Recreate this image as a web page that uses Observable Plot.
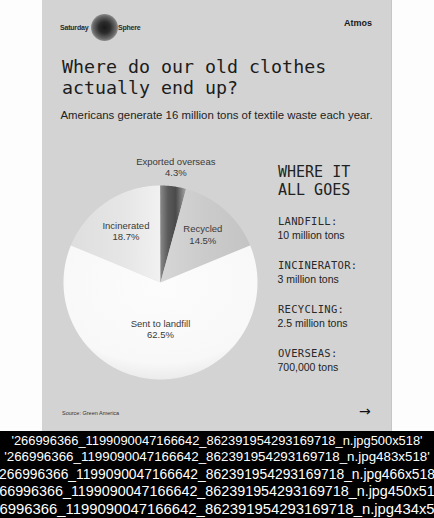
<!DOCTYPE html>
<html><head><meta charset="utf-8">
<script src="https://cdn.jsdelivr.net/npm/d3@7"></script>
<script src="https://cdn.jsdelivr.net/npm/@observablehq/plot@0.6"></script>
<style>
html,body{margin:0;padding:0;background:#fdfdfd;width:434px;height:518px;overflow:hidden;position:relative;font-family:"Liberation Sans",Arial,sans-serif}
#card{position:absolute;left:42px;top:0;width:349px;height:431px;background:#d3d3d3;border-right:1px solid #c6c6c6}
#band{position:absolute;left:0;top:431px;width:434px;height:87px;background:#000}
.t{position:absolute;white-space:nowrap;line-height:1}
.mono{font-family:"DejaVu Sans Mono",monospace}
#chart{position:absolute;left:50px;top:140px}
#sphere{position:absolute;left:91px;top:14px;width:27px;height:27px;border-radius:50%;
 background:radial-gradient(circle at 50% 50%, #1a1a1a 0%, #2c2c2c 30%, rgba(70,70,70,0.75) 60%, rgba(150,150,150,0.3) 85%, rgba(211,211,211,0) 100%)}
</style>
</head><body>
<div id="card"></div>
<div id="band"></div>
<div id="sphere"></div>
<div id="root"></div>
<div id="chart"></div>
<script>
// ---- data ----
const slices = ["Incinerated", "Exported overseas", "Recycled", "Sent to landfill"];
const shares = [18.7, 4.3, 14.5, 62.5];
const legendLabels = ["LANDFILL:", "INCINERATOR:", "RECYCLING:", "OVERSEAS:"];
const legendValues = ["10 million tons", "3 million tons", "2.5 million tons", "700,000 tons"];
const titleLines = ["Where do our old clothes", "actually end up?"];
const subtitle = "Americans generate 16 million tons of textile waste each year.";
const sideTitle = ["WHERE IT", "ALL GOES"];
const source = "Source: Green America";
const fileBase = "266996366_1199090047166642_862391954293169718_n.jpg";
const fileWidths = [500, 483, 466, 450, 434];
const fileHeight = 518;

// ---- styles ----
const fills = ["url(#gInc)", "url(#gExp)", "url(#gRec)", "url(#gLand)"];

// ---- static text ----
const root = document.getElementById("root");
function addText(txt, left, baseline, size, opts = {}) {
  const d = document.createElement("div");
  d.className = "t" + (opts.mono ? " mono" : "");
  d.textContent = txt;
  d.style.fontSize = size + "px";
  d.style.top = (baseline - 0.85 * size) + "px";
  if (opts.center) { d.style.left = left + "px"; d.style.transform = "translateX(-50%)"; }
  else d.style.left = left + "px";
  d.style.color = opts.color || "#1f1f1f";
  if (opts.bold) d.style.fontWeight = "bold";
  if (opts.ls) d.style.letterSpacing = opts.ls + "px";
  root.appendChild(d);
  return d;
}
addText("Saturday", 60, 29.5, 7, {bold: true, color: "#2a2a2a", ls: -0.2});
addText("Sphere", 118, 29.5, 7, {bold: true, color: "#2a2a2a", ls: -0.2});
addText("Atmos", 344, 27, 9, {bold: true, color: "#1a1a1a"});
titleLines.forEach((l, i) => addText(l, 62, 74 + i * 20.7, 18.3, {mono: true, color: "#1c1c1c"}));
addText(subtitle, 60.5, 120, 11.4, {color: "#222"});
sideTitle.forEach((l, i) => addText(l, 278, 177.5 + i * 18.3, 15, {mono: true, color: "#222"}));
legendLabels.forEach((l, i) => {
  addText(l, 278, 225 + i * 44, 10.5, {mono: true, color: "#2a2a2a", ls: 0.3});
  addText(legendValues[i], 277.5, 239 + i * 44, 10.5, {color: "#222"});
});
addText(source, 62, 416, 5.5, {color: "#333"});
addText("\u2192", 359, 416, 14, {color: "#111"}).style.fontFamily = "DejaVu Sans";
const bandBaselines = [446, 461.5, 480, 496, 514.5];
fileWidths.forEach((w, i) => {
  const fs = 12.9 * fileWidths[0] / w;
  addText(`'${fileBase}${w}x${fileHeight}'`, 217, bandBaselines[i], fs, {center: true, color: "#fff"});
});

// ---- pie via Plot ----
const data = slices.map((name, i) => ({name, share: shares[i]}));
const landShare = shares[slices.indexOf("Sent to landfill")];
const start = -Math.PI * (100 - landShare) / 100;
const arcs = d3.pie().sort(null).value(d => d.share).startAngle(start).endAngle(start + 2 * Math.PI)(data);
const pts = [];
arcs.forEach(a => {
  const n = Math.max(4, Math.ceil((a.endAngle - a.startAngle) / 0.01));
  pts.push({name: a.data.name, x: 0, y: 0});
  for (let i = 0; i <= n; i++) {
    const t = a.startAngle + (a.endAngle - a.startAngle) * i / n;
    pts.push({name: a.data.name, x: Math.sin(t), y: Math.cos(t)});
  }
  pts.push({name: a.data.name, x: 0, y: 0});
});
const labelR = {"Incinerated": 0.64, "Exported overseas": 1.2, "Recycled": 0.66, "Sent to landfill": 0.48};
const labels = arcs.map(a => {
  const m = (a.startAngle + a.endAngle) / 2, r = labelR[a.data.name];
  return {x: r * Math.sin(m), y: r * Math.cos(m), text: `${a.data.name}\n${a.data.share}%`};
});
const R = 97, W = 220, H = 252, cx = 110, cy = 142;
const plot = Plot.plot({
  width: W, height: H, margin: 0,
  x: {domain: [-cx / R, (W - cx) / R], axis: null},
  y: {domain: [-(H - cy) / R, cy / R], axis: null},
  color: {domain: slices, range: fills},
  style: {background: "transparent", overflow: "visible", fontFamily: "Liberation Sans, Arial, sans-serif"},
  marks: [
    Plot.line(pts, {x: "x", y: "y", z: "name", fill: "name", stroke: "none", curve: "linear"}),
    Plot.text(labels, {x: "x", y: "y", text: "text", fontSize: 9.5, lineHeight: 1.2, fill: "#3a3a3a"})
  ]
});
const defs = d3.select(plot).insert("defs", ":first-child");
function lin(id, stops, x2 = 1, y2 = 0) {
  const g = defs.append("linearGradient").attr("id", id).attr("x1", 0).attr("y1", 0).attr("x2", x2).attr("y2", y2);
  stops.forEach(([o, c]) => g.append("stop").attr("offset", o).attr("stop-color", c));
}
lin("gInc", [[0, "#dedede"], [0.6, "#e6e6e6"], [1, "#f1f1f1"]]);
lin("gExp", [[0, "#8a8a8a"], [0.3, "#5a5a5a"], [0.6, "#4a4a4a"], [1, "#a8a8a8"]]);
lin("gRec", [[0, "#d6d6d6"], [0.5, "#cbcbcb"], [1, "#c4c4c4"]]);
const rg = defs.append("radialGradient").attr("id", "gLand").attr("cx", 0.5).attr("cy", 0.3).attr("r", 0.72);
[[0, "#fcfcfc"], [0.8, "#f8f8f8"], [1, "#e9e9e9"]].forEach(([o, c]) => rg.append("stop").attr("offset", o).attr("stop-color", c));
document.getElementById("chart").appendChild(plot);
</script>
</body></html>
